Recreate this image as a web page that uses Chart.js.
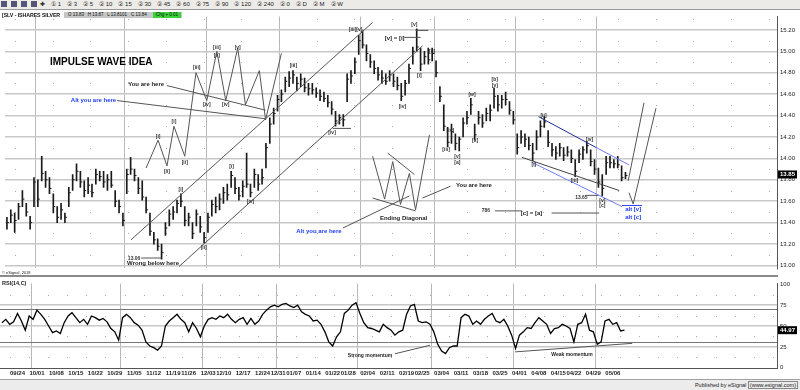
<!DOCTYPE html>
<html>
<head>
<meta charset="utf-8">
<script src="https://cdn.jsdelivr.net/npm/chart.js@4.4.1/dist/chart.umd.min.js"></script>
<style>
  html, body { margin: 0; padding: 0; background: #fff; }
  #wrap { position: relative; width: 800px; height: 390px; overflow: hidden; font-family: "Liberation Sans", Arial, sans-serif; }
  #toolbar { position: absolute; left: 0; top: 0; width: 800px; height: 9px; background: #ecebe8; border-bottom: 1px solid #9a9a9a; font-size: 6px; line-height: 9px; color: #222; white-space: nowrap; overflow: hidden; }
  #toolbar b { display: inline-block; width: 6px; height: 6px; margin: 1px 3px 0 1px; background: #557; vertical-align: top; }
  #toolbar i { font-style: normal; margin-right: 6px; }
  #pricePane { position: absolute; left: 0; top: 10px; width: 800px; height: 265px; }
  #rsiPane { position: absolute; left: 0; top: 277px; width: 800px; height: 101px; }
  .sep { position: absolute; left: 0; width: 778px; height: 2px; background: #8a8a8a; }
  #title { position: absolute; left: 2px; top: 12px; font-size: 5.3px; font-weight: bold; color: #111; letter-spacing: -0.1px; }
  #ohlc { position: absolute; left: 64px; top: 12px; width: 118px; height: 6px; background: #c6c6c6; font-size: 4.5px; line-height: 6px; color: #111; padding-left: 4px; box-sizing: border-box; }
  #ohlc span.chg { position: absolute; right: 1px; top: 0; width: 28px; height: 6px; background: #3ad13a; text-align: center; }
  #copy { position: absolute; left: 2px; top: 270px; font-size: 4px; color: #222; }
  #rsiLabel { position: absolute; left: 2px; top: 280px; font-size: 5.5px; font-weight: bold; color: #222; }
  #footer { position: absolute; left: 0; top: 379px; width: 800px; height: 11px; background: #ececec; border-top: 1px solid #a0a0a0; font-size: 5.5px; line-height: 11px; color: #222; text-align: right; }
  #footer span { border: 1px solid #888; padding: 0 1px; margin-right: 2px; }
</style>
</head>
<body>
<div id="wrap">
  <div id="toolbar"><b></b><b></b><b></b><b></b><i>&#10010;</i><i>&#9312; 1</i><i>&#9313; 3</i><i>&#9313; 5</i><i>&#9313; 10</i><i>&#9313; 15</i><i>&#9313; 30</i><i>&#9313; 45</i><i>&#9313; 60</i><i>&#9313; 75</i><i>&#9313; 90</i><i>&#9313; 120</i><i>&#9313; 240</i><i>&#9313; 0</i><i>&#9313; D</i><i>&#9313; M</i><i>&#9313; W</i></div>
  <div id="pricePane"><canvas id="priceChart"></canvas></div>
  <div class="sep" style="top:275px"></div>
  <div id="rsiPane"><canvas id="rsiChart"></canvas></div>
  <div id="title">[SLV - ISHARES SILVER</div>
  <div id="ohlc">O 13.83 &nbsp; H 13.87 &nbsp; L 13.8101 &nbsp; C 13.84<span class="chg">Chg + 0.01</span></div>
  <div id="copy">&copy; eSignal, 2018</div>
  <div id="rsiLabel">RSI(14,C)</div>
  <div id="footer">Published by eSignal <span>(www.esignal.com)</span></div>
</div>
<script>
Chart.defaults.font.family = '"Liberation Sans", Arial, sans-serif';

// trading days shown
const dates = [
  '09/18','09/19','09/20','09/21','09/24','09/25','09/26','09/27','09/28',
  '10/01','10/02','10/03','10/04','10/05','10/08','10/09','10/10','10/11','10/12',
  '10/15','10/16','10/17','10/18','10/19','10/22','10/23','10/24','10/25','10/26',
  '10/29','10/30','10/31','11/01','11/02','11/05','11/06','11/07','11/08','11/09',
  '11/12','11/13','11/14','11/15','11/16','11/19','11/20','11/21','11/23',
  '11/26','11/27','11/28','11/29','11/30','12/03','12/04','12/06','12/07',
  '12/10','12/11','12/12','12/13','12/14','12/17','12/18','12/19','12/20','12/21',
  '12/24','12/26','12/27','12/28','12/31','01/02','01/03','01/04',
  '01/07','01/08','01/09','01/10','01/11','01/14','01/15','01/16','01/17','01/18',
  '01/22','01/23','01/24','01/25','01/28','01/29','01/30','01/31','02/01',
  '02/04','02/05','02/06','02/07','02/08','02/11','02/12','02/13','02/14','02/15',
  '02/19','02/20','02/21','02/22','02/25','02/26','02/27','02/28','03/01',
  '03/04','03/05','03/06','03/07','03/08','03/11','03/12','03/13','03/14','03/15',
  '03/18','03/19','03/20','03/21','03/22','03/25','03/26','03/27','03/28','03/29',
  '04/01','04/02','04/03','04/04','04/05','04/08','04/09','04/10','04/11','04/12',
  '04/15','04/16','04/17','04/18','04/22','04/23','04/24','04/25','04/26',
  '04/29','04/30','05/01','05/02','05/03','05/06','05/07','05/08','05/09'
];

const highs = [
  13.45,13.52,13.49,13.58,13.70,13.58,13.46,13.82,13.80,14.02,
  13.88,13.82,13.67,13.55,13.58,13.49,13.73,13.85,13.95,13.88,
  13.79,13.82,13.76,13.90,13.88,13.88,13.85,13.88,13.70,13.61,
  13.49,13.90,14.01,13.90,13.82,13.79,13.64,13.49,13.31,13.25,
  13.20,13.40,13.52,13.55,13.61,13.67,13.55,13.49,13.40,13.52,
  13.46,13.31,13.49,13.61,13.64,13.67,13.73,13.76,13.88,13.82,
  13.73,13.79,14.05,13.76,13.90,13.85,13.90,14.14,14.38,14.47,
  14.59,14.64,14.76,14.81,14.82,14.76,14.79,14.75,14.70,14.70,
  14.66,14.64,14.62,14.59,14.53,14.44,14.41,14.41,14.79,14.82,
  14.94,15.15,15.19,15.06,14.97,14.91,14.85,14.82,14.79,14.82,
  14.79,14.76,14.70,14.73,14.88,15.04,15.21,15.03,15.00,15.03,
  15.03,14.91,14.67,14.50,14.29,14.32,14.23,14.20,14.38,14.44,
  14.56,14.32,14.44,14.41,14.47,14.50,14.66,14.59,14.59,14.62,
  14.53,14.44,14.23,14.26,14.23,14.20,14.14,14.26,14.35,14.39,
  14.26,14.14,14.11,14.14,14.10,14.11,14.08,13.99,14.08,14.11,
  14.16,14.08,13.99,13.91,13.85,14.02,14.02,13.99,14.02,13.93,
  13.87
];
const lows = [
  13.34,13.40,13.31,13.43,13.55,13.46,13.34,13.55,13.55,13.79,
  13.73,13.67,13.49,13.40,13.43,13.40,13.55,13.70,13.79,13.73,
  13.64,13.67,13.64,13.76,13.79,13.73,13.70,13.73,13.55,13.49,
  13.37,13.67,13.85,13.79,13.67,13.61,13.49,13.28,13.20,13.14,
  13.06,13.28,13.37,13.43,13.49,13.55,13.37,13.37,13.25,13.37,
  13.31,13.21,13.31,13.46,13.49,13.52,13.58,13.61,13.73,13.67,
  13.61,13.64,13.73,13.64,13.73,13.70,13.76,13.91,14.14,14.32,
  14.44,14.53,14.62,14.67,14.70,14.63,14.67,14.62,14.59,14.60,
  14.57,14.54,14.53,14.48,14.41,14.30,14.32,14.30,14.53,14.70,
  14.79,14.97,15.03,14.91,14.85,14.79,14.73,14.70,14.69,14.72,
  14.67,14.64,14.54,14.59,14.70,14.88,15.00,14.82,14.88,14.88,
  14.91,14.76,14.53,14.26,14.11,14.14,14.08,14.07,14.20,14.32,
  14.41,14.17,14.32,14.29,14.35,14.35,14.47,14.44,14.47,14.50,
  14.41,14.32,14.04,14.14,14.11,14.08,13.98,14.08,14.20,14.29,
  14.11,14.02,13.99,14.02,13.98,14.02,13.96,13.83,13.96,13.99,
  14.05,13.93,13.85,13.73,13.65,13.85,13.91,13.91,13.91,13.79,
  13.81
];
const closes = [
  13.40,13.47,13.42,13.55,13.62,13.50,13.40,13.78,13.62,13.86,
  13.80,13.72,13.55,13.45,13.52,13.45,13.68,13.80,13.88,13.78,
  13.70,13.75,13.68,13.85,13.83,13.78,13.80,13.75,13.60,13.55,
  13.42,13.85,13.90,13.84,13.72,13.64,13.52,13.32,13.24,13.18,
  13.12,13.35,13.48,13.50,13.58,13.60,13.42,13.45,13.30,13.48,
  13.36,13.26,13.45,13.57,13.55,13.62,13.68,13.66,13.84,13.72,
  13.65,13.74,13.76,13.68,13.85,13.76,13.82,14.10,14.32,14.42,
  14.55,14.60,14.72,14.75,14.78,14.70,14.74,14.66,14.65,14.64,
  14.61,14.58,14.56,14.52,14.46,14.35,14.38,14.36,14.74,14.77,
  14.90,15.10,15.06,14.98,14.90,14.84,14.78,14.75,14.72,14.78,
  14.72,14.68,14.58,14.70,14.84,15.00,15.04,14.88,14.95,14.92,
  14.98,14.80,14.58,14.30,14.15,14.25,14.14,14.18,14.33,14.38,
  14.50,14.22,14.38,14.33,14.42,14.45,14.58,14.50,14.55,14.55,
  14.45,14.36,14.10,14.20,14.18,14.12,14.05,14.20,14.30,14.34,
  14.15,14.08,14.05,14.10,14.03,14.06,14.00,13.88,14.04,14.08,
  14.12,13.97,13.90,13.78,13.72,13.96,13.96,13.95,13.94,13.82,
  13.84
];
const rsi = [
  54,58,52,55,65,56,45,62,58,69,64,58,50,42,44,41,54,62,66,60,
  54,58,52,62,60,57,59,55,47,43,33,60,64,60,54,51,45,31,26,24,
  21,26,50,56,60,64,58,54,43,54,47,37,50,58,60,58,62,60,64,58,
  54,58,60,52,59,52,56,64,69,73,75,73,76,77,74,72,75,67,64,62,
  56,57,52,43,31,26,37,43,65,69,75,78,65,54,48,47,45,43,52,48,
  45,39,43,45,64,74,76,56,54,55,52,43,28,20,17,24,26,26,60,64,
  62,52,56,52,58,62,65,56,54,58,50,39,23,39,43,48,47,54,60,56,
  52,41,47,48,52,50,47,31,52,54,64,45,43,28,31,56,58,52,54,44,
  44.97
];

const weekLabels = ['09/24','10/01','10/08','10/15','10/22','10/29','11/05','11/12','11/19','11/26',
  '12/03','12/10','12/17','12/24','12/31','01/07','01/14','01/22','01/28','02/04','02/11','02/19',
  '02/25','03/04','03/11','03/18','03/25','04/01','04/08','04/15','04/22','04/29','05/06'];
const monthStarts = ['10/01','11/01','12/03','01/02','02/01','03/01','04/01','05/01'];
const priceTicks = [13.0,13.2,13.4,13.6,13.8,14.0,14.2,14.4,14.6,14.8,15.0,15.2];
const priceDotLevels = [13.1,13.3,13.5,13.7,13.9,14.1,14.3,14.5,14.7,14.9,15.1,15.3];
const rsiTicks = [0,25,50,75,100];
const rsiBands = [30,70];
const rsiDotLevels = [12.5,37.5,62.5,87.5];
const lastPrice = 13.85;
const lastRsi = 44.97;

// drawn-on wave notes, in (bar, price)
const notePaths = [
  [[36.0,13.91],[39.1,14.17],[41.4,13.93],[43.2,14.30],[46.0,14.02],[48.9,14.80],[51.7,14.54],[54.3,15.00],[56.6,14.54],[59.7,15.03],[61.7,14.50],[65.3,14.82],[66.9,14.36],[71.0,14.98]],
  [[94.6,14.02],[97.7,13.62],[99.8,13.97],[101.8,13.57],[104.1,13.86],[105.7,13.52],[109.3,14.22]],
  [[160.9,13.68],[162.0,13.575],[167.9,14.47]]
];
const noteLines = [
  [41.4,14.68,66.9,14.45,'#555'],
  [28.5,14.54,66.9,14.37,'#555'],
  [32.1,13.24,94.6,15.27,'#555'],
  [44.5,12.99,107.5,15.05,'#555'],
  [84.3,14.28,89.0,14.28,'#555'],
  [34.7,13.07,39.9,13.07,'#555'],
  [102.8,15.13,107.0,15.13,'#555'],
  [105.7,15.195,109.0,15.195,'#555'],
  [98.5,14.05,105.4,13.85,'#555'],
  [94.6,13.63,105.7,13.51,'#555'],
  [86.9,13.35,104.1,13.65,'#555'],
  [107.5,13.63,114.7,13.74,'#555'],
  [126.2,13.51,133.2,13.51,'#555'],
  [140.9,13.49,153.2,13.49,'#555'],
  [149.9,13.655,153.0,13.655,'#555'],
  [137.5,14.39,152.5,14.10,'#1c2d8f'],
  [152.5,14.10,160.9,13.94,'#6f7cf5'],
  [133.2,14.01,158.4,13.70,'#444'],
  [135.7,13.965,159.1,13.55,'#6f7cf5'],
  [160.7,13.79,164.8,14.52,'#555'],
  [159.1,13.56,164.3,13.56,'#3344ee']
];
const noteTexts = [
  [24.4,14.90,'IMPULSE WAVE IDEA','title'],
  [36.0,14.69,'You are here','note'],
  [22.4,14.54,'Alt you are here','blue'],
  [120.8,13.75,'You are here','note'],
  [102.6,13.44,'Ending Diagonal','note'],
  [80.7,13.32,'Alt you are here','blue'],
  [32.9,13.06,'13.06','lbl'],
  [37.8,13.02,'Wrong below here','note'],
  [100.3,15.12,'[v] = [i]','note'],
  [148.6,13.63,'13.65','lbl'],
  [123.9,13.51,'786','lbl'],
  [135.7,13.49,'[c] = [a]','note'],
  [162.0,13.52,'alt [v]','blue'],
  [162.0,13.45,'alt [c]','blue'],
  [39.1,14.20,'[i]','lbl'],[41.4,13.88,'[ii]','lbl'],[43.2,14.34,'[i]','lbl'],[46.0,13.965,'[ii]','lbl'],
  [49.1,14.85,'[iii]','lbl'],[51.7,14.50,'[iv]','lbl'],[54.3,15.03,'[iii]','lbl'],[54.3,14.96,'[v]','lbl'],
  [56.6,14.50,'[iv]','lbl'],[59.7,15.03,'[v]','lbl'],
  [45.0,13.71,'[i]','lbl'],[50.9,13.17,'[ii]','lbl'],[58.1,13.92,'[i]','lbl'],[63.0,13.60,'[iv]','lbl'],
  [74.1,14.87,'[iii]','lbl'],[84.1,14.24,'[iv]','lbl'],[90.2,15.20,'[iii][v]','lbl'],[105.4,15.25,'[v]','lbl'],
  [106.7,14.77,'[i]','lbl'],[110.0,15.00,'[ii]','lbl'],[102.3,14.48,'[iv]','lbl'],[114.7,14.26,'[iv]','lbl'],
  [113.6,14.08,'[iii]','lbl'],[116.5,14.02,'[v]','lbl'],[116.5,13.96,'[a]','lbl'],[120.3,14.60,'[w]','lbl'],
  [121.1,14.17,'[x]','lbl'],[126.2,14.74,'[b]','lbl'],[126.2,14.68,'[v]','lbl'],[138.8,14.40,'[ii]','lbl'],
  [136.3,13.94,'[i]','lbl'],[146.8,13.79,'[iii]','lbl'],[150.7,14.18,'[iv]','lbl'],[154.0,13.61,'[v]','lbl'],
  [154.0,13.56,'[c]','lbl']
];
const rsiNoteLines = [[101.0,16.7,110.0,26.9],[131.9,19.0,162.0,29.2]];
const rsiNoteTexts = [[94.6,14.4,'Strong momentum'],[146.5,15.6,'Weak momentum']];

const textStyles = {
  title: ['bold 10px "Liberation Sans", Arial', '#000'],
  note: ['bold 6px "Liberation Sans", Arial', '#222'],
  blue: ['bold 6px "Liberation Sans", Arial', '#1f3cf0'],
  lbl: ['bold 5px "Liberation Sans", Arial', '#333']
};

const X_MIN = -0.5, X_MAX = 199.2;

function xTicks(scale, withWeeks) {
  const t = monthStarts.map(d => ({ value: dates.indexOf(d) - 1.5, month: true, txt: '' }));
  if (withWeeks) weekLabels.forEach(d => t.push({ value: dates.indexOf(d), month: false, txt: d }));
  t.sort((a, b) => a.value - b.value);
  scale.ticks = t;
}

// faint dot grid behind the bars, like the eSignal panel
function dotGrid(levels, stepBars) {
  return {
    id: 'dots',
    beforeDatasetsDraw(chart) {
      const { ctx, scales: { x, y } } = chart;
      ctx.save();
      ctx.fillStyle = '#a8a8a8';
      levels.forEach(v => {
        const py = Math.round(y.getPixelForValue(v));
        for (let b = 2.1; b < X_MAX; b += stepBars) {
          ctx.fillRect(Math.round(x.getPixelForValue(b)), py, 1, 1);
        }
      });
      ctx.restore();
    }
  };
}

function noteLayer(lines, paths, texts, lastVal, lastFmt) {
  return {
    id: 'notes',
    afterDatasetsDraw(chart) {
      const { ctx, chartArea: a, scales: { x, y } } = chart;
      ctx.save();
      ctx.beginPath();
      ctx.rect(a.left, a.top, a.right - a.left, a.bottom - a.top);
      ctx.clip();
      ctx.lineWidth = 1;
      lines.forEach(l => {
        ctx.strokeStyle = l[4] || '#555';
        ctx.beginPath();
        ctx.moveTo(x.getPixelForValue(l[0]), y.getPixelForValue(l[1]));
        ctx.lineTo(x.getPixelForValue(l[2]), y.getPixelForValue(l[3]));
        ctx.stroke();
      });
      ctx.strokeStyle = '#555';
      paths.forEach(p => {
        ctx.beginPath();
        p.forEach((pt, i) => {
          const px = x.getPixelForValue(pt[0]), py = y.getPixelForValue(pt[1]);
          if (i) ctx.lineTo(px, py); else ctx.moveTo(px, py);
        });
        ctx.stroke();
      });
      ctx.textAlign = 'center';
      ctx.textBaseline = 'middle';
      texts.forEach(t => {
        const st = textStyles[t[3] || 'note'];
        ctx.font = st[0];
        ctx.fillStyle = st[1];
        ctx.fillText(t[2], x.getPixelForValue(t[0]), y.getPixelForValue(t[1]));
      });
      ctx.restore();
    },
    afterDraw(chart) {
      const { ctx, chartArea: a, scales: { y } } = chart;
      const py = y.getPixelForValue(lastVal);
      ctx.save();
      ctx.fillStyle = '#000';
      ctx.fillRect(a.right + 1, py - 4, 19, 8);
      ctx.fillStyle = '#fff';
      ctx.font = 'bold 6px "Liberation Sans", Arial';
      ctx.textBaseline = 'middle';
      ctx.fillText(lastFmt, a.right + 3, py);
      ctx.restore();
    }
  };
}

const yTickFont = { size: 6, family: '"Liberation Sans", Arial' };

new Chart(document.getElementById('priceChart'), {
  type: 'bar',
  data: {
    datasets: [
      {
        type: 'bar',
        data: lows.map((l, i) => ({ x: i, y: [l, highs[i]] })),
        backgroundColor: '#1a1a1a',
        barThickness: 1,
        grouped: false
      },
      {
        type: 'line',
        data: closes.map((c, i) => ({ x: i, y: c })),
        showLine: false,
        pointStyle: 'dash',
        pointRadius: 2,
        pointBorderWidth: 1,
        pointBorderColor: '#1a1a1a'
      }
    ]
  },
  options: {
    responsive: true,
    maintainAspectRatio: false,
    animation: false,
    events: [],
    layout: { padding: 0 },
    plugins: { legend: { display: false }, tooltip: { enabled: false } },
    scales: {
      x: {
        type: 'linear', min: X_MIN, max: X_MAX, bounds: 'data', offset: false,
        afterBuildTicks: s => xTicks(s, false),
        afterFit: s => { s.height = 0; },
        ticks: { display: false },
        grid: { offset: false, drawTicks: false, color: c => (c.tick && c.tick.month) ? '#b8b8b8' : 'rgba(0,0,0,0)' },
        border: { display: false }
      },
      y: {
        position: 'right', min: 12.973, max: 15.324, bounds: 'data',
        afterBuildTicks: s => { s.ticks = priceTicks.map(v => ({ value: v })); },
        afterFit: s => { s.width = 23; },
        ticks: { font: yTickFont, color: '#222', padding: 3, callback: v => v.toFixed(2) },
        grid: { color: '#c8c8c8', lineWidth: 1.5, drawTicks: false },
        border: { color: '#555', width: 1 }
      }
    }
  },
  plugins: [dotGrid(priceDotLevels, 9.75), noteLayer(noteLines, notePaths, noteTexts, lastPrice, lastPrice.toFixed(2))]
});

const rsiTextLayer = {
  id: 'rsiNotes',
  afterDatasetsDraw(chart) {
    const { ctx, scales: { x, y } } = chart;
    ctx.save();
    ctx.strokeStyle = '#555';
    ctx.lineWidth = 1;
    rsiNoteLines.forEach(l => {
      ctx.beginPath();
      ctx.moveTo(x.getPixelForValue(l[0]), y.getPixelForValue(l[1]));
      ctx.lineTo(x.getPixelForValue(l[2]), y.getPixelForValue(l[3]));
      ctx.stroke();
    });
    ctx.font = 'bold 5px "Liberation Sans", Arial';
    ctx.fillStyle = '#222';
    ctx.textAlign = 'center';
    ctx.textBaseline = 'middle';
    rsiNoteTexts.forEach(t => ctx.fillText(t[2], x.getPixelForValue(t[0]), y.getPixelForValue(t[1])));
    ctx.restore();
  }
};

new Chart(document.getElementById('rsiChart'), {
  type: 'line',
  data: {
    datasets: [{
      data: rsi.map((v, i) => ({ x: i, y: v })),
      borderColor: '#000',
      borderWidth: 1.3,
      pointRadius: 0,
      tension: 0
    }]
  },
  options: {
    responsive: true,
    maintainAspectRatio: false,
    animation: false,
    events: [],
    layout: { padding: { top: 2 } },
    plugins: { legend: { display: false }, tooltip: { enabled: false } },
    scales: {
      x: {
        type: 'linear', min: X_MIN, max: X_MAX, bounds: 'data', offset: false,
        afterBuildTicks: s => xTicks(s, true),
        afterFit: s => { s.height = 10; },
        ticks: {
          autoSkip: false, maxRotation: 0, padding: 2,
          font: { size: 6, weight: 'bold' }, color: '#222',
          callback: (v, i, t) => t[i].txt
        },
        grid: { offset: false, drawTicks: false, color: c => (c.tick && c.tick.month) ? '#b8b8b8' : 'rgba(0,0,0,0)' },
        border: { color: '#555' }
      },
      y: {
        position: 'right', min: -0.34, max: 100.8, bounds: 'data',
        afterBuildTicks: s => { s.ticks = rsiTicks.concat(rsiBands).sort((a, b) => a - b).map(v => ({ value: v })); },
        afterFit: s => { s.width = 23; },
        ticks: { font: yTickFont, color: '#222', padding: 3, callback: v => rsiTicks.includes(v) ? String(v) : '' },
        grid: {
          drawTicks: false,
          color: c => rsiBands.includes(c.tick.value) ? '#777' : (c.tick.value > 0 && c.tick.value < 100 ? '#c8c8c8' : 'rgba(0,0,0,0)'),
          lineWidth: c => rsiBands.includes(c.tick.value) ? 1 : 1.5
        },
        border: { color: '#555', width: 1 }
      }
    }
  },
  plugins: [dotGrid(rsiDotLevels, 4.9), rsiTextLayer, noteLayer([], [], [], lastRsi, lastRsi.toFixed(2))]
});
</script>
</body>
</html>
